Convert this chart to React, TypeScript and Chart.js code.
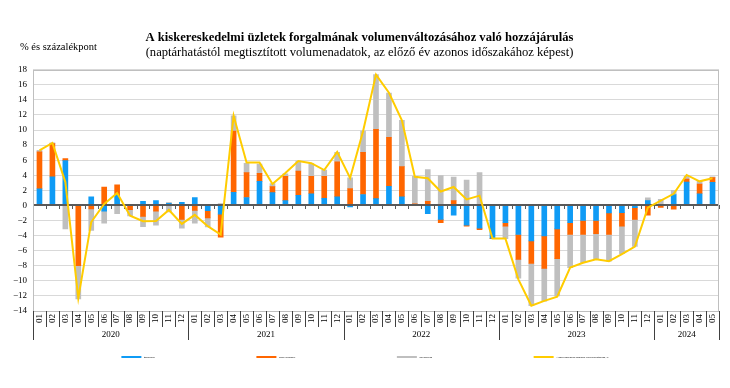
import React, { useEffect, useRef } from 'react';
import { Chart, registerables } from 'chart.js';

Chart.register(...registerables);

const categories = [
  '2020-01', '2020-02', '2020-03', '2020-04', '2020-05', '2020-06', '2020-07', '2020-08', '2020-09', '2020-10', '2020-11', '2020-12',
  '2021-01', '2021-02', '2021-03', '2021-04', '2021-05', '2021-06', '2021-07', '2021-08', '2021-09', '2021-10', '2021-11', '2021-12',
  '2022-01', '2022-02', '2022-03', '2022-04', '2022-05', '2022-06', '2022-07', '2022-08', '2022-09', '2022-10', '2022-11', '2022-12',
  '2023-01', '2023-02', '2023-03', '2023-04', '2023-05', '2023-06', '2023-07', '2023-08', '2023-09', '2023-10', '2023-11', '2023-12',
  '2024-01', '2024-02', '2024-03', '2024-04', '2024-05',
];
const monthLabels = categories.map((c) => c.slice(5));
const yearLabels = ['2020', '2021', '2022', '2023', '2024'];

const food = [
  2.2, 3.8, 5.95, 0, 1.15, -0.75, 1.35, 0, 0.55, 0.65, 0.3, 0.4,
  1.05, -0.7, -1.15, 1.75, 1.05, 3.2, 1.7, 0.65, 1.35, 1.55, 0.95, 1.15,
  -0.2, 1.45, 0.9, 2.55, 1.15, 0, -1.1, -1.85, -1.3, -2.6, -3.0, -4.35,
  -2.3, -3.85, -4.7, -4.05, -3.1, -2.3, -2.0, -2.0, -1.0, -0.95, -0.3, 0.65,
  0.05, 1.45, 3.1, 1.55, 3.05,
];
const nonFood = [
  4.9, 4.4, 0.25, -8.0, -0.45, 2.45, 1.4, -0.55, -1.45, -0.75, 0, -1.85,
  -0.65, -0.95, -3.05, 8.1, 3.3, 1.05, 0.8, 3.2, 3.2, 2.3, 2.9, 4.65,
  2.25, 5.6, 9.2, 6.5, 4.0, 0.2, 0.55, -0.45, 0.65, -0.15, -0.2, -0.05,
  -0.45, -3.3, -3.0, -4.3, -3.95, -1.55, -1.85, -1.75, -2.85, -1.8, -1.55, -1.3,
  -0.25, -0.5, 0.4, 1.3, 0.65,
];
const fuel = [
  0.2, 0.1, -3.1, -4.4, -2.85, -1.6, -1.1, -0.85, -1.35, -1.85, -0.85, -1.15,
  -1.7, -1.2, 0.25, 2.05, 1.25, 1.25, 0.4, 0.35, 1.35, 1.7, 0.85, 1.25,
  1.4, 2.8, 7.25, 5.85, 6.15, 3.65, 4.2, 3.95, 3.1, 3.35, 4.35, 0,
  -1.65, -2.5, -5.6, -4.35, -4.95, -4.4, -3.75, -3.3, -3.55, -3.65, -3.6, 0.35,
  0.75, 0.55, 0.35, 0.35, 0.1,
];
const total = [
  7.3, 8.3, 3.1, -12.3, -2.2, 0.2, 1.65, -1.35, -2.1, -2.05, -0.6, -2.45,
  -1.25, -2.75, -3.85, 11.9, 5.7, 5.7, 2.85, 4.3, 5.9, 5.6, 4.7, 7.1,
  3.65, 9.85, 17.35, 14.95, 11.3, 3.8, 3.6, 1.85, 2.45, 0.8, 1.3, -4.4,
  -4.4, -9.8, -13.3, -12.65, -12.1, -8.25, -7.6, -7.15, -7.4, -6.45, -5.45, -0.3,
  0.65, 1.55, 4.05, 3.2, 3.6,
];

const seriesLabels = [
  'Élelmiszer',
  'Nem élelmiszer',
  'Üzemanyag',
  'A kiskereskedelmi forgalom volumenváltozása, %',
];
const seriesColors = ['#0F9BF5', '#FF6600', '#BFBFBF', '#FFCC00'];

const titleText = 'A kiskereskedelmi üzletek forgalmának volumenváltozásához való hozzájárulás';
const subtitleText = '(naptárhatástól megtisztított volumenadatok, az előző év azonos időszakához képest)';
const unitText = '% és százalékpont';

const SERIF = '"Liberation Serif", "Times New Roman", serif';

function boundaries(x: any): number[] {
  const n = categories.length;
  const res = [x.left];
  for (let k = 1; k < n; k++) {
    res.push((x.getPixelForValue(k - 1) + x.getPixelForValue(k)) / 2);
  }
  res.push(x.right);
  return res;
}

const decorPlugin = {
  id: 'decor',
  beforeDatasetDraw(chart: any, args: any) {
    if (args.index !== 3) return;
    const { ctx, chartArea: a, scales } = chart;
    const y0 = Math.round(scales.y.getPixelForValue(0));
    ctx.save();
    ctx.strokeStyle = '#595959';
    ctx.lineWidth = 2;
    ctx.beginPath();
    ctx.moveTo(a.left, y0);
    ctx.lineTo(a.right, y0);
    ctx.stroke();
    ctx.lineWidth = 1;
    ctx.beginPath();
    for (const bx of boundaries(scales.x)) {
      const px = Math.round(bx) + 0.5;
      ctx.moveTo(px, y0);
      ctx.lineTo(px, y0 + 4);
    }
    ctx.stroke();
    ctx.restore();
  },
  afterDraw(chart: any) {
    const { ctx, chartArea: a, scales } = chart;
    const x = scales.x;
    const b = boundaries(x);
    ctx.save();
    // plot border
    ctx.strokeStyle = '#BFBFBF';
    ctx.lineWidth = 1;
    ctx.strokeRect(Math.round(a.left) + 0.5, Math.round(a.top) + 0.5, Math.round(a.width) - 1, Math.round(a.height));

    // year groups
    const yearStarts: number[] = [];
    categories.forEach((c, i) => {
      if (i === 0 || c.slice(0, 4) !== categories[i - 1].slice(0, 4)) yearStarts.push(i);
    });
    yearStarts.push(categories.length);

    // separators
    ctx.strokeStyle = '#404040';
    ctx.beginPath();
    for (let k = 0; k < b.length; k++) {
      const isYear = yearStarts.includes(k);
      const px = Math.round(b[k]) + 0.5;
      ctx.moveTo(px, a.bottom);
      ctx.lineTo(px, a.bottom + (isYear ? 29 : 16));
    }
    ctx.stroke();

    // year labels
    ctx.fillStyle = '#000';
    ctx.font = `9px ${SERIF}`;
    ctx.textAlign = 'center';
    ctx.textBaseline = 'middle';
    for (let g = 0; g < yearLabels.length; g++) {
      const cx = (b[yearStarts[g]] + b[yearStarts[g + 1]]) / 2;
      ctx.fillText(yearLabels[g], cx, a.bottom + 24);
    }

    // unit label
    ctx.font = `10.5px ${SERIF}`;
    ctx.textAlign = 'left';
    ctx.fillText(unitText, 20, 47);

    // legend
    const fontSize = 2.4;
    ctx.font = `${fontSize}px "Liberation Sans", Arial, sans-serif`;
    const boxW = 20;
    const gap = 2.5;
    const pad = 101.5;
    const widths = seriesLabels.map((t) => boxW + gap + ctx.measureText(t).width);
    const totalW = widths.reduce((s, w) => s + w, 0) + pad * (widths.length - 1);
    let cx = chart.width / 2 - totalW / 2;
    const ly = 357;
    seriesLabels.forEach((t, i) => {
      ctx.fillStyle = seriesColors[i];
      ctx.fillRect(cx, ly - 1, boxW, 2);
      ctx.fillStyle = '#000';
      ctx.textBaseline = 'middle';
      ctx.fillText(t, cx + boxW + gap, ly);
      cx += widths[i] + pad;
    });
    ctx.restore();
  },
};

export default function App() {
  const canvasRef = useRef<HTMLCanvasElement | null>(null);

  useEffect(() => {
    document.body.style.margin = '0';
    const canvas = canvasRef.current;
    if (!canvas) return;
    const chart = new Chart(canvas, {
      type: 'bar',
      data: {
        labels: categories,
        datasets: [
          { label: seriesLabels[0], data: food, backgroundColor: seriesColors[0], stack: 'parts', order: 1, barThickness: 5 },
          { label: seriesLabels[1], data: nonFood, backgroundColor: seriesColors[1], stack: 'parts', order: 1, barThickness: 5 },
          { label: seriesLabels[2], data: fuel, backgroundColor: seriesColors[2], stack: 'parts', order: 1, barThickness: 5 },
          {
            type: 'line',
            label: seriesLabels[3],
            data: total,
            borderColor: seriesColors[3],
            backgroundColor: seriesColors[3],
            borderWidth: 2,
            pointRadius: 0,
            tension: 0,
            fill: false,
            stack: 'total',
            order: 0,
          } as any,
        ],
      },
      options: {
        responsive: false,
        animation: false,
        layout: { padding: { left: 0, right: 11, top: 0, bottom: 48 } },
        plugins: {
          legend: { display: false },
          tooltip: { enabled: false },
          title: {
            display: true,
            text: titleText,
            color: '#000',
            font: { family: SERIF, size: 12.6, weight: 'bold' },
            padding: { top: 30, bottom: 0 },
          },
          subtitle: {
            display: true,
            text: subtitleText,
            color: '#000',
            font: { family: SERIF, size: 12.6, weight: 'normal' },
            padding: { top: 0, bottom: 9.5 },
          },
        },
        scales: {
          x: {
            stacked: true,
            grid: { display: false, drawTicks: false },
            border: { display: false },
            ticks: {
              autoSkip: false,
              minRotation: 90,
              maxRotation: 90,
              padding: 3,
              color: '#000',
              font: { family: SERIF, size: 9 },
              callback: (_v: any, i: number) => monthLabels[i],
            },
            afterFit: (scale: any) => {
              scale.height = 29;
            },
          },
          y: {
            stacked: true,
            min: -14,
            max: 18,
            grid: { color: '#D9D9D9', lineWidth: 1, drawTicks: false },
            border: { display: false },
            ticks: {
              stepSize: 2,
              padding: 6,
              color: '#000',
              font: { family: SERIF, size: 9 },
              callback: (v: any) => (Number(v) < 0 ? '\u2212' + Math.abs(Number(v)) : String(v)),
            },
            afterFit: (scale: any) => {
              scale.width = 33;
            },
          },
        },
      },
      plugins: [decorPlugin],
    });
    return () => chart.destroy();
  }, []);

  return (
    <div style={{ width: 730, height: 388 }}>
      <canvas ref={canvasRef} width={730} height={388} />
    </div>
  );
}
